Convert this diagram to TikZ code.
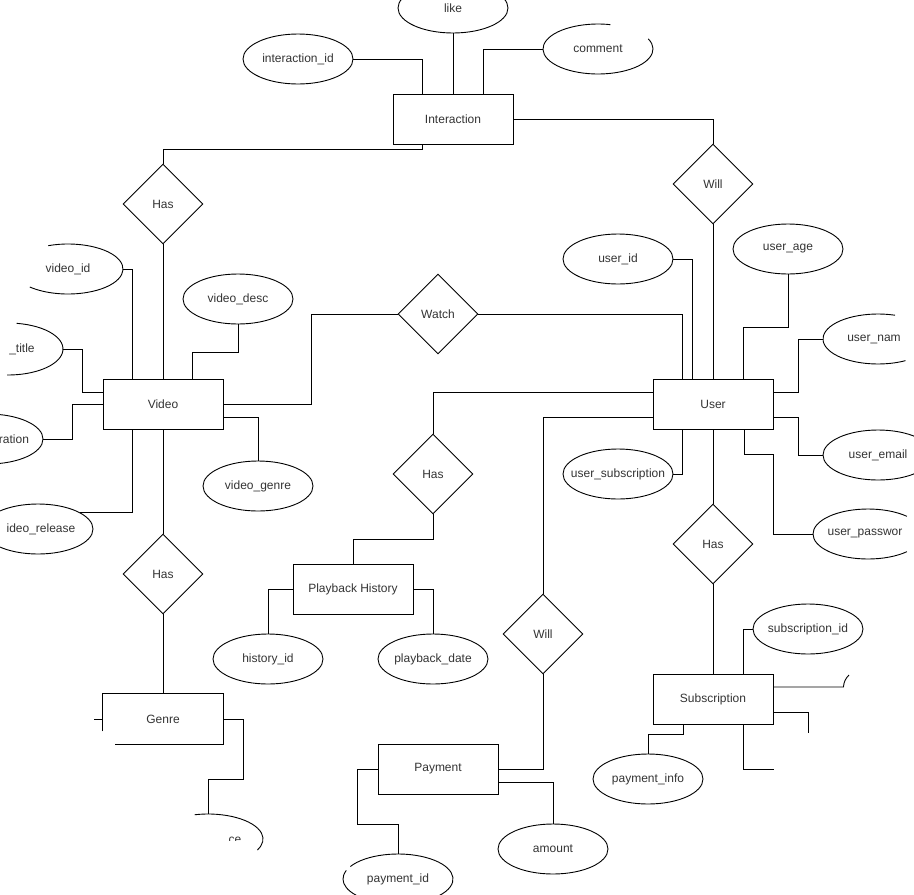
\documentclass[tikz,border=0pt]{standalone}
\usepackage{fontspec}
\setmainfont{Liberation Sans}
\usetikzlibrary{shapes.geometric,calc}
\definecolor{txtc}{HTML}{333333}
\newcommand\attxt[1]{\makebox[0pt]{#1}}
\begin{document}
\begin{tikzpicture}[x=1pt,y=-1pt,line width=0.9pt,
  lbl/.style={font=\fontsize{12}{14}\selectfont,text=txtc},
  ent/.style={lbl,draw,rectangle,minimum width=120pt,minimum height=50pt,inner sep=0pt},
  rel/.style={lbl,draw,diamond,minimum width=80pt,minimum height=80pt,inner sep=0pt},
  att/.style={lbl,draw,ellipse,minimum width=110pt,minimum height=50pt,inner sep=0pt},
  txt/.style={lbl,inner sep=0pt},
  pell/.style={x radius=55pt,y radius=25pt}]
\useasboundingbox (0,0) rectangle (914,895);
\clip (0,0) rectangle (914,895);

% entities
\node[ent] (inter) at (453,119) {Interaction};
\node[ent] (video) at (163,404) {Video};
\node[ent] (user) at (713,404) {User};
\node[ent] (pb) at (353,589) {Playback History};
\node[ent] (subs) at (713,699) {Subscription};
\node[ent] (pay) at (438,769) {Payment};
\node[ent,draw=none] (genre) at (163,719) {Genre};
\draw ([yshift=13pt]genre.south west) -- (genre.north west) -- (genre.north east)
      -- (genre.south east) -- ([xshift=12pt]genre.south west);

% relationships
\node[rel] (has1) at (163,204) {Has};
\node[rel] (will1) at (713,184) {Will};
\node[rel] (watch) at (438,314) {Watch};
\node[rel] (has2) at (433,474) {Has};
\node[rel] (has4) at (163,574) {Has};
\node[rel] (will2) at (543,634) {Will};
\node[rel] (has3) at (713,544) {Has};

% full attributes
\node[att] (like) at (453,8) {\attxt{like}};
\node[att] (iid) at (298,59) {\attxt{interaction\_id}};
\node[att] (vdesc) at (238,299) {\attxt{video\_desc}};
\node[att] (vgenre) at (258,486) {\attxt{video\_genre}};
\node[att] (uid) at (618,259) {\attxt{user\_id}};
\node[att] (uage) at (788,249) {\attxt{user\_age}};
\node[att] (usub) at (618,474) {\attxt{user\_subscription}};
\node[att] (uemail) at (878,455) {\attxt{user\_email}};
\node[att] (subid) at (808,629) {\attxt{subscription\_id}};
\node[att] (pinfo) at (648,779) {\attxt{payment\_info}};
\node[att] (hid) at (268,659) {\attxt{history\_id}};
\node[att] (pdate) at (433,659) {\attxt{playback\_date}};
\node[att] (amount) at (553,849) {\attxt{amount}};

% partially visible attributes
\draw ([shift={(24:55pt and 25pt)}]598,49) arc[start angle=24,end angle=-283,pell];
\node[txt] (cmt) at (598,49) {comment};
\draw ([shift={(111:55pt and 25pt)}]68,269) arc[start angle=111,end angle=-134,pell];
\node[txt] (vid) at (68,269) {video\_id};
\draw ([shift={(81:55pt and 26pt)}]8,349) arc[start angle=81,end angle=-91,x radius=55pt,y radius=26pt];
\node[txt] (vtit) at (22,349) {\_title};
\draw (-12,439) ellipse[pell];
\node[txt] (vdur) at (14,439) {ration};
\draw (38,529) ellipse[pell];
\node[txt] (vrel) at (41,529) {ideo\_release};
\draw ([shift={(72:55pt and 25pt)}]878,339) arc[start angle=72,end angle=300,pell];
\node[txt] (uname) at (874,339) {user\_nam};
\draw ([shift={(45:55pt and 25pt)}]868,534) arc[start angle=45,end angle=315,pell];
\node[txt] (upw) at (865,534) {user\_passwor};
\draw ([shift={(150:55pt and 25pt)}]398,879) arc[start angle=150,end angle=-200,pell];
\node[txt] (pid) at (398,879) {payment\_id};
\draw ([shift={(104:55pt and 25pt)}]208,839) arc[start angle=104,end angle=-26,pell];
\begin{scope}
\clip (180,800) rectangle (270,840);
\node[txt] (gatt) at (235,840) {ce};
\end{scope}

% connector end points on partial shapes
\coordinate (cmtW) at (543,49);
\coordinate (vidE) at (123,269);
\coordinate (vtitE) at (63,349);
\coordinate (vdurE) at (43,439);
\coordinate (vrelE) at (80,512);
\coordinate (unameW) at (823,339);
\coordinate (upwW) at (813,534);
\coordinate (pidN) at (398,854);
\coordinate (gattN) at (208,814);
\coordinate (gtick) at (94,719);
\coordinate (subR1) at (849,675);
\coordinate (subR2) at (808,733);
\coordinate (subB) at (774,769);

% Interaction
\draw (like.south) -- (inter.north);
\draw (iid.east) -| ([xshift=30pt]inter.north west);
\draw (cmtW) -| ([xshift=-30pt]inter.north east);
\draw (inter.east) -| (will1.north);
\draw ([xshift=30pt]inter.south west) -- ++(0pt,-5pt) -| (has1.north);
\draw (has1.south) -- (video.north);

% Video
\draw (vidE) -| ([xshift=30pt]video.north west);
\draw (vtitE) -| ([xshift=-20pt,yshift=12pt]video.west) -- ([yshift=12pt]video.west);
\draw (vdurE) -| ([xshift=-30pt]video.west) -- (video.west);
\draw (vrelE) -| ([xshift=30pt]video.south west);
\draw (vdesc.south) -- ++(0pt,-28pt) -| ([xshift=90pt]video.north west);
\draw ([yshift=-13pt]video.east) -| (vgenre.north);
\draw (video.east) -- ++(88pt,0pt) |- (watch.west);
\draw (video.south) -- (has4.north);
\draw (has4.south) -- (genre.north);

% Genre
\draw (genre.east) -| ([xshift=20pt,yshift=-60pt]genre.east) -| (gattN);
\draw (gtick) -- (genre.west);

% User
\draw (watch.east) -| ([xshift=30pt]user.north west);
\draw (uid.east) -| ([xshift=40pt]user.north west);
\draw (will1.south) -- (user.north);
\draw (uage.south) -- ++(0pt,-53pt) -| ([xshift=-30pt]user.north east);
\draw ([yshift=12pt]user.east) -- ++(25pt,0pt) |- (unameW);
\draw ([yshift=-13pt]user.east) -- ++(25pt,0pt) |- (uemail.west);
\draw ([xshift=-29pt]user.south east) |- ++(29pt,-25pt) |- (upwW);
\draw (usub.east) -| ([xshift=30pt]user.south west);
\draw (user.south) -- (has3.north);
\draw (has3.south) -- (subs.north);
\draw ([yshift=12pt]user.west) -| (has2.north);
\draw ([yshift=-13pt]user.west) -| (will2.north);

% Playback history
\draw (has2.south) -- ++(0pt,-25pt) -| (pb.north);
\draw (pb.west) -| (hid.north);
\draw (pb.east) -| (pdate.north);

% Payment
\draw (will2.south) |- (pay.east);
\draw ([yshift=-13pt]pay.east) -| (amount.north);
\draw (pay.west) -- ++(-20pt,0pt) |- ([yshift=30pt]pidN) -- (pidN);

% Subscription
\draw ([xshift=-30pt]subs.north east) |- (subid.west);
\draw ([yshift=12pt]subs.east) -- ++(70pt,0pt) to[bend left=20] (subR1);
\draw ([yshift=-13pt]subs.east) -| (subR2);
\draw ([xshift=-30pt]subs.south east) |- (subB);
\draw ([xshift=-30pt]subs.south) -- ++(0pt,-10pt) -| (pinfo.north);
\end{tikzpicture}
\end{document}
